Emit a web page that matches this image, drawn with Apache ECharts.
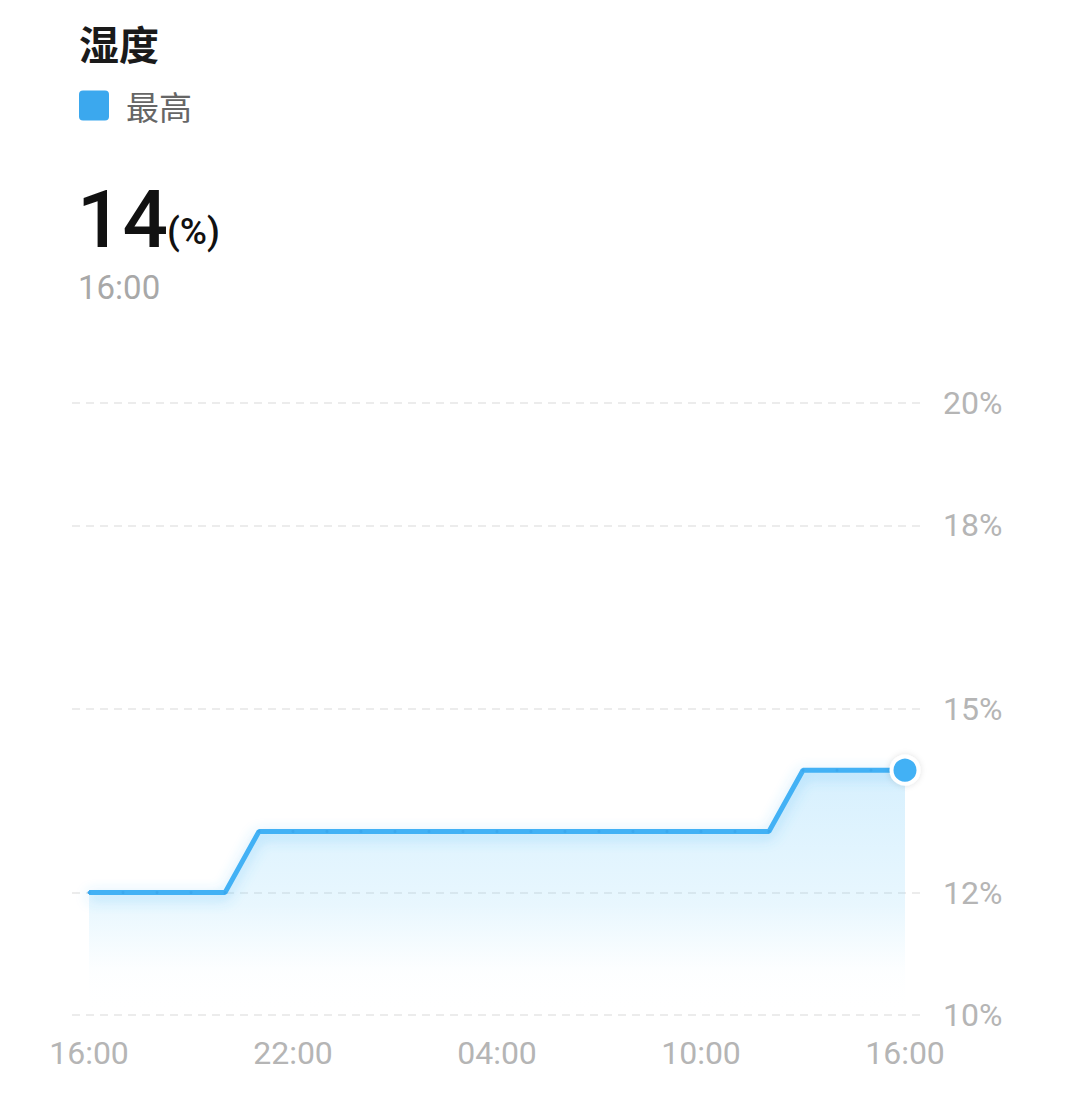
<!DOCTYPE html>
<html>
<head>
<meta charset="utf-8">
<script src="https://cdn.jsdelivr.net/npm/echarts@6/dist/echarts.min.js"></script>
<style>
  html, body { margin: 0; padding: 0; background: #fff; }
  #main { width: 1080px; height: 1104px; }
</style>
</head>
<body>
<div id="main"></div>
<script>
// hourly readings, 16:00 today -> 16:00 next day
var hours = ['16:00','17:00','18:00','19:00','20:00','21:00','22:00','23:00',
  '00:00','01:00','02:00','03:00','04:00','05:00','06:00','07:00','08:00',
  '09:00','10:00','11:00','12:00','13:00','14:00','15:00','16:00'];
var humidityMax = [12,12,12,12,12,13,13,13,13,13,13,13,13,13,13,13,13,
  13,13,13,13,14,14,14,14];
var yTicks = [10, 12, 15, 18, 20];
var latestValue = 14;
var latestTime = '16:00';

var blue = '#42b1f5';
var cjk = '"Noto Sans CJK SC", sans-serif';
var num = 'Roboto, "Noto Sans", sans-serif';

var chart = echarts.init(document.getElementById('main'), null, { renderer: 'svg' });

var option = {
  backgroundColor: '#fff',
  color: [blue],
  graphic: [
    {
      type: 'text', left: 79, top: 23,
      style: { text: '湿度', fontSize: 40, fontWeight: 'bold', fontFamily: cjk, fill: '#1a1a1a' }
    },
    {
      type: 'text', left: 77, top: 180,
      style: { text: String(latestValue), fontSize: 80, fontWeight: 500, fontFamily: num, fill: '#111' }
    },
    {
      type: 'text', left: 167, top: 213,
      style: { text: '(%)', fontSize: 37, fontWeight: 500, fontFamily: num, fill: '#111' }
    },
    {
      type: 'text', left: 78, top: 271,
      style: { text: latestTime, fontSize: 33, fontFamily: num, fill: '#a8a8a8' }
    }
  ],
  legend: {
    left: 74, top: 84,
    icon: 'path://M4,0 H26 A4,4 0 0 1 30,4 V26 A4,4 0 0 1 26,30 H4 A4,4 0 0 1 0,26 V4 A4,4 0 0 1 4,0 Z',
    itemWidth: 30, itemHeight: 30,
    textStyle: { fontSize: 33, color: '#666', fontFamily: cjk, padding: [0, 0, 0, 12] },
    data: ['最高']
  },
  grid: { left: 72, right: 158, top: 403, bottom: 89 },
  xAxis: {
    type: 'category',
    boundaryGap: true,
    data: hours,
    axisLine: { show: false },
    axisTick: { show: false },
    axisLabel: {
      interval: 5,
      margin: 22,
      fontSize: 32,
      color: '#b5b5b5',
      fontFamily: num
    }
  },
  yAxis: {
    type: 'value',
    position: 'right',
    min: 10, max: 20,
    axisLine: { show: false },
    axisTick: { show: false, customValues: yTicks },
    axisLabel: {
      customValues: yTicks,
      formatter: '{value}%',
      margin: 21,
      fontSize: 32,
      color: '#b5b5b5',
      fontFamily: num
    },
    splitLine: {
      show: true,
      lineStyle: { color: '#ececec', type: [8, 6], width: 2 }
    }
  },
  series: [{
    name: '最高',
    type: 'line',
    data: humidityMax.map(function (v, i) {
      if (i === humidityMax.length - 1) {
        return { value: v, symbolSize: 27, itemStyle: { color: blue, borderColor: '#fff', borderWidth: 4,
          shadowColor: 'rgba(0,0,0,0.12)', shadowBlur: 6 } };
      }
      return v;
    }),
    symbol: 'circle',
    symbolSize: 3,
    showSymbol: true,
    itemStyle: { color: '#3ba8ee' },
    lineStyle: {
      width: 5, color: blue,
      shadowColor: 'rgba(66,177,245,0.45)', shadowBlur: 14, shadowOffsetY: 4
    },
    areaStyle: {
      color: new echarts.graphic.LinearGradient(0, 0, 0, 1, [
        { offset: 0, color: 'rgba(110,200,250,0.4)' },
        { offset: 0.55, color: 'rgba(125,208,250,0.25)' },
        { offset: 0.82, color: 'rgba(140,215,250,0.03)' },
        { offset: 1, color: 'rgba(255,255,255,0)' }
      ])
    },
    z: 3
  }]
};

chart.setOption(option);
</script>
</body>
</html>
